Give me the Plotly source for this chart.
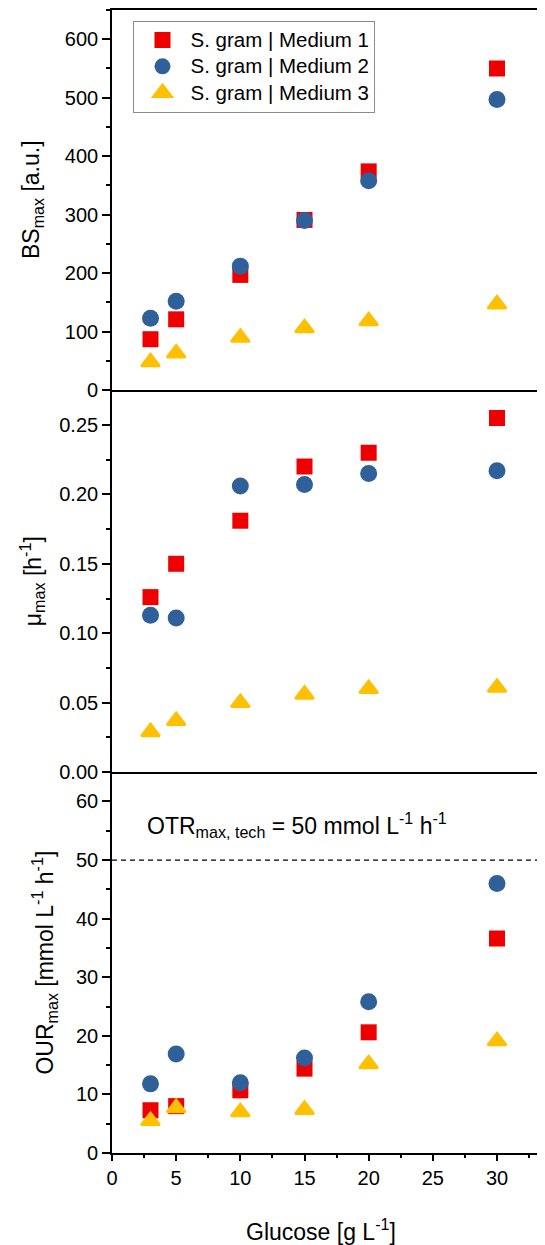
import plotly.graph_objects as go
from plotly.subplots import make_subplots

glucose = [3, 5, 10, 15, 20, 30]
series_names = ["S. gram | Medium 1", "S. gram | Medium 2", "S. gram | Medium 3"]

bs_m1 = [87, 121, 197, 291, 374, 550]
bs_m2 = [123, 152, 212, 290, 358, 497]
bs_m3 = [48, 63, 90, 106, 118, 147]

mu_m1 = [0.126, 0.150, 0.181, 0.220, 0.230, 0.255]
mu_m2 = [0.113, 0.111, 0.206, 0.207, 0.215, 0.217]
mu_m3 = [0.029, 0.037, 0.050, 0.056, 0.060, 0.061]

our_m1 = [7.3, 8.0, 10.7, 14.4, 20.6, 36.6]
our_m2 = [11.8, 16.9, 12.0, 16.2, 25.8, 46.0]
our_m3 = [5.5, 7.7, 7.0, 7.4, 15.2, 19.1]

otr_max_tech = 50

colors = ["#EE0000", "#2F6099", "#FFC000"]
symbols = ["square", "circle", "triangle-up"]
sizes = [16, 17, 16]
outline = [0, 0, 2.5]

FONT = "Liberation Sans, Arial, sans-serif"

fig = make_subplots(rows=3, cols=1, shared_xaxes=True, vertical_spacing=0,
                    row_heights=[380, 382, 380.7])

panels = [(bs_m1, bs_m2, bs_m3), (mu_m1, mu_m2, mu_m3), (our_m1, our_m2, our_m3)]
for r, vals in enumerate(panels, start=1):
    for i, v in enumerate(vals):
        fig.add_trace(go.Scatter(
            x=glucose, y=v, mode="markers",
            name='<span style="font-size:20.5px">' + series_names[i] + '</span>',
            showlegend=(r == 1),
            marker=dict(color=colors[i], symbol=symbols[i], size=sizes[i],
                        line=dict(width=outline[i], color=colors[i])),
        ), row=r, col=1)

axis_common = dict(showline=True, linecolor="black", linewidth=1.6,
                   showgrid=False, zeroline=False,
                   tickfont=dict(family=FONT, size=20, color="black"))

xr = [0, 33.74]
for r in (1, 2, 3):
    xa = dict(axis_common, range=xr, dtick=5, tick0=0)
    if r == 3:
        xa.update(ticks="outside", ticklen=6, tickwidth=1.6, tickcolor="black",
                  showticklabels=True,
                  minor=dict(ticks="outside", ticklen=3, tickwidth=1.6,
                             tickcolor="black", dtick=2.5, tick0=0))
    else:
        xa.update(ticks="", showticklabels=False)
    if r == 1:
        xa.update(mirror=True)
    fig.update_xaxes(**xa, row=r, col=1)

yspecs = [
    dict(range=[0, 650], dtick=100, minor_dtick=50, fmt=None),
    dict(range=[0, 0.275], dtick=0.05, minor_dtick=0.025, fmt=".2f"),
    dict(range=[0, 65], dtick=10, minor_dtick=5, fmt=None),
]
for r, s in enumerate(yspecs, start=1):
    ya = dict(axis_common, range=s["range"], dtick=s["dtick"], tick0=0,
              ticks="outside", ticklen=8, tickwidth=1.6, tickcolor="black",
              minor=dict(ticks="outside", ticklen=4, tickwidth=1.6,
                         tickcolor="black", dtick=s["minor_dtick"], tick0=0))
    if s["fmt"]:
        ya["tickformat"] = s["fmt"]
    fig.update_yaxes(**ya, row=r, col=1)

# dashed technical OTR limit
fig.add_shape(type="line", xref="x3 domain", yref="y3", x0=0, x1=1,
              y0=otr_max_tech, y1=otr_max_tech,
              line=dict(color="black", width=1.3, dash="5px,4px"))

title_font = dict(family=FONT, size=23, color="black")
annos = [
    dict(text="BS<sub>max</sub> [a.u.]", yref="y domain", xshift=-80),
    dict(text="\u03bc<sub>max</sub> [h<sup>-1</sup>]", yref="y2 domain", xshift=-80),
    dict(text="OUR<sub>max</sub> [mmol L<sup>-1</sup> h<sup>-1</sup>]", yref="y3 domain", xshift=-68),
]
for a in annos:
    fig.add_annotation(text=a["text"], xref="x domain", x=0, yref=a["yref"], y=0.5,
                       xshift=a["xshift"], textangle=-90, showarrow=False,
                       xanchor="center", yanchor="middle", font=title_font)

fig.add_annotation(text="Glucose [g L<sup>-1</sup>]", xref="x3 domain", x=0.5,
                   yref="y3 domain", y=0, yshift=-77, xshift=-8,
                   showarrow=False, xanchor="center", yanchor="middle",
                   font=title_font)

fig.add_annotation(text="OTR<sub>max, tech</sub> = 50 mmol L<sup>-1</sup> h<sup>-1</sup>",
                   xref="x3", yref="y3", x=2.6, y=56, showarrow=False,
                   xanchor="left", yanchor="middle",
                   font=dict(family=FONT, size=23, color="black"))

# page body has an 8px default margin, so the figure is sized to fit the window
fig.update_layout(
    width=537, height=1237,
    margin=dict(l=104, r=0, t=2, b=92),
    paper_bgcolor="white", plot_bgcolor="white",
    showlegend=True,
    legend=dict(x=0.0496, y=0.9906, xanchor="left", yanchor="top",
                bgcolor="white", bordercolor="#8C8C8C", borderwidth=1,
                font=dict(family=FONT, size=18, color="black"),
                tracegroupgap=0, itemsizing="trace", itemwidth=46),
)

fig.write_html("out.html")
